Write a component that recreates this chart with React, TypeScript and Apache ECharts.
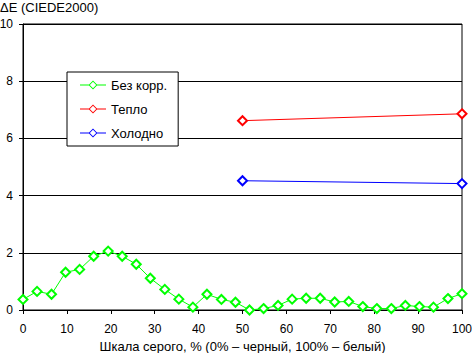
import React, { useEffect, useRef } from "react";
import * as echarts from "echarts";

const grayX = [0, 3.2, 6.5, 9.7, 12.9, 16.1, 19.4, 22.6, 25.8, 29.0, 32.3, 35.5, 38.7, 41.9, 45.2, 48.4, 51.6, 54.8, 58.1, 61.3, 64.5, 67.7, 71.0, 74.2, 77.4, 80.6, 83.9, 87.1, 90.3, 93.5, 96.8, 100];
const noCorr = [0.37, 0.65, 0.55, 1.32, 1.42, 1.88, 2.06, 1.88, 1.6, 1.11, 0.72, 0.38, 0.1, 0.55, 0.37, 0.27, 0.0, 0.05, 0.16, 0.38, 0.41, 0.41, 0.28, 0.3, 0.12, 0.05, 0.05, 0.16, 0.12, 0.1, 0.4, 0.57];
const warmX = [50, 100];
const warm = [6.62, 6.86];
const coldX = [50, 100];
const cold = [4.52, 4.42];
const seriesNames = ["Без корр.", "Тепло", "Холодно"];
const seriesColors = ["#00ff00", "#ff0000", "#0000ff"];

const FONT = "'Liberation Sans', Arial, sans-serif";

// legend icon: thin line with a hollow diamond in the middle (26 x 9 box)
const LEGEND_ICON =
  "path://M0,4L8.9,4L8.9,5L0,5Z" +
  "M17.1,4L26,4L26,5L17.1,5Z" +
  "M13,0L17.5,4.5L13,9L8.5,4.5Z" +
  "M13,1.3L9.8,4.5L13,7.7L16.2,4.5Z";

export default function App() {
  const ref = useRef<HTMLDivElement>(null);
  useEffect(() => {
    if (!ref.current) return;
    const chart = echarts.init(ref.current, undefined, { renderer: "svg" });
    const mk = (name: string, color: string, xs: number[], ys: number[]) => ({
      name,
      type: "line",
      data: xs.map((x, i) => [x, ys[i]]),
      symbol: "emptyDiamond",
      symbolSize: 9,
      clip: false,
      color,
      itemStyle: { color, borderWidth: 1 },
      lineStyle: { color, width: 1 },
      emphasis: { disabled: true },
    });
    chart.setOption({
      animation: false,
      textStyle: { fontFamily: FONT },
      title: {
        text: "ΔE (CIEDE2000)",
        left: -5,
        top: -4,
        textStyle: { fontSize: 13, fontWeight: "normal", color: "#000", fontFamily: FONT },
      },
      grid: {
        left: 23,
        right: 10,
        top: 24,
        bottom: 43,
        show: true,
        borderColor: "#000",
        borderWidth: 1,
        backgroundColor: "transparent",
        outerBoundsMode: "none",
        containLabel: false,
      },
      legend: {
        orient: "vertical",
        left: 67,
        top: 72,
        padding: [6, 11, 6, 13],
        itemGap: 10,
        itemWidth: 26,
        itemHeight: 9,
        backgroundColor: "#fff",
        borderColor: "#000",
        borderWidth: 1,
        borderRadius: 0,
        data: seriesNames.map((n, i) => ({
          name: n,
          icon: LEGEND_ICON,
          itemStyle: { color: seriesColors[i], borderWidth: 0 },
        })),
        textStyle: { fontSize: 13, color: "#000", fontFamily: FONT, lineHeight: 14 },
      },
      xAxis: {
        type: "value",
        min: 0,
        max: 100,
        interval: 10,
        name: "Шкала серого, % (0% – черный, 100% – белый)",
        nameLocation: "middle",
        nameGap: 27,
        nameTextStyle: { fontSize: 13, color: "#000", fontFamily: FONT },
        axisLine: { show: true, lineStyle: { color: "#000", width: 1 } },
        axisTick: { show: true, length: 4, lineStyle: { color: "#000" } },
        axisLabel: { fontSize: 12, color: "#000", margin: 13, fontFamily: FONT },
        splitLine: { show: false },
      },
      yAxis: {
        type: "value",
        min: 0,
        max: 10,
        interval: 2,
        axisLine: { show: true, lineStyle: { color: "#000", width: 1 } },
        axisTick: { show: true, length: 4, lineStyle: { color: "#000" } },
        axisLabel: { fontSize: 12, color: "#000", margin: 10, fontFamily: FONT },
        splitLine: { show: true, lineStyle: { color: "#000", width: 1 } },
      },
      series: [
        mk(seriesNames[0], seriesColors[0], grayX, noCorr),
        mk(seriesNames[1], seriesColors[1], warmX, warm),
        mk(seriesNames[2], seriesColors[2], coldX, cold),
      ],
    });
    return () => chart.dispose();
  }, []);
  return (
    <div
      ref={ref}
      style={{ position: "fixed", left: 0, top: 0, width: 472, height: 353, background: "#fff" }}
    />
  );
}
